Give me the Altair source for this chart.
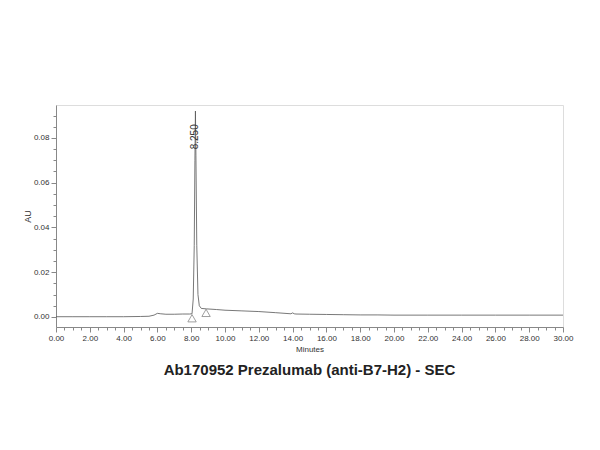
import altair as alt
import pandas as pd

# Chromatogram trace (minutes, AU)
minutes = [0.0, 1.0, 2.0, 3.0, 4.0, 5.0, 5.5, 5.8, 6.0, 6.2, 6.5, 7.0, 7.5, 7.9, 8.05,
           8.12, 8.18, 8.22, 8.25, 8.28, 8.33, 8.40, 8.48, 8.6, 8.9, 9.5, 10.0, 11.0,
           12.0, 13.0, 13.9, 14.0, 14.1, 14.2, 15.0, 16.0, 17.0, 18.0, 19.0, 20.0,
           22.0, 24.0, 26.0, 28.0, 30.0]
au = [0.0001, 0.0001, 0.0001, 0.0001, 0.0001, 0.0002, 0.0003, 0.0008, 0.0016, 0.0014,
      0.0012, 0.0012, 0.0013, 0.0013, 0.0014, 0.008, 0.032, 0.070, 0.092, 0.072, 0.032,
      0.010, 0.0050, 0.0038, 0.0036, 0.0033, 0.0030, 0.0027, 0.0024, 0.0019, 0.0014,
      0.0018, 0.0014, 0.0013, 0.0012, 0.0011, 0.0010, 0.0009, 0.0009, 0.0008, 0.0008,
      0.0008, 0.0008, 0.0008, 0.0008]

# Integration markers
marker_minutes = [8.05, 8.88]
marker_au = [-0.0006, 0.0018]

# Peak label
peak_minutes = [8.25]
peak_label_au = [0.0805]
peak_labels = ["8.250"]

x_ticks = [i * 0.5 for i in range(61)]
y_ticks = [round(i * 0.005, 3) for i in range(19)]

trace = pd.DataFrame({"Minutes": minutes, "AU": au})
markers = pd.DataFrame({"Minutes": marker_minutes, "AU": marker_au})
peaks = pd.DataFrame({"Minutes": peak_minutes, "AU": peak_label_au, "label": peak_labels})

FONT = "Liberation Sans"
GRAY = "#555555"

x_scale = alt.Scale(domain=[0, 30], nice=False, zero=False)
y_scale = alt.Scale(domain=[-0.0045, 0.0947], nice=False, zero=False)

x_major = "abs(datum.value / 2 - round(datum.value / 2)) < 0.000001"
y_major = "abs(datum.value / 0.02 - round(datum.value / 0.02)) < 0.000001"

x_axis = alt.Axis(
    values=x_ticks,
    labelExpr=f"({x_major}) ? format(datum.value, '.2f') : ''",
    tickSize={"condition": {"test": x_major, "value": 5}, "value": 3},
    title="Minutes",
    titleFont=FONT, titleFontSize=8, titleFontWeight="normal", titleColor="#333333",
    titlePadding=3,
    labelFont=FONT, labelFontSize=8, labelColor="#333333", labelPadding=2,
    labelOverlap=False, labelFlush=False, labelBound=False,
    grid=False, domainColor="#888888", tickColor="#888888",
)
y_axis = alt.Axis(
    values=y_ticks,
    labelExpr=f"({y_major}) ? format(datum.value, '.2f') : ''",
    tickSize={"condition": {"test": y_major, "value": 5}, "value": 3},
    title="AU",
    titleFont=FONT, titleFontSize=9, titleFontWeight="normal", titleColor="#333333",
    titlePadding=1,
    labelFont=FONT, labelFontSize=8, labelColor="#333333", labelPadding=2,
    labelOverlap=False, labelFlush=False, labelBound=False,
    grid=False, domainColor="#888888", tickColor="#888888",
)

line = alt.Chart(trace).mark_line(color=GRAY, strokeWidth=0.8).encode(
    x=alt.X("Minutes:Q", scale=x_scale, axis=x_axis),
    y=alt.Y("AU:Q", scale=y_scale, axis=y_axis),
)

tri = alt.Chart(markers).mark_point(
    shape="triangle-up", filled=False, color=GRAY, size=70, strokeWidth=0.8
).encode(
    x=alt.X("Minutes:Q", scale=x_scale, axis=x_axis),
    y=alt.Y("AU:Q", scale=y_scale, axis=y_axis),
)

lbl = alt.Chart(peaks).mark_text(
    angle=270, font=FONT, fontSize=10, color="#333333", align="center", baseline="middle"
).encode(
    x=alt.X("Minutes:Q", scale=x_scale, axis=x_axis),
    y=alt.Y("AU:Q", scale=y_scale, axis=y_axis),
    text="label:N",
)

chart = (line + tri + lbl).properties(
    width=507,
    height=222,
    autosize=alt.AutoSizeParams(type="none"),
    padding={"left": 48, "top": 97, "right": 29, "bottom": 113},
    title=alt.TitleParams(
        "Ab170952 Prezalumab (anti-B7-H2) - SEC",
        orient="bottom", anchor="middle", font=FONT, fontSize=15,
        fontWeight="bold", color="#222222", offset=10,
    ),
).configure_view(stroke="#888888", strokeWidth=1).configure(background="white")

chart.save("out.html", embed_options={"renderer": "svg", "actions": False})
